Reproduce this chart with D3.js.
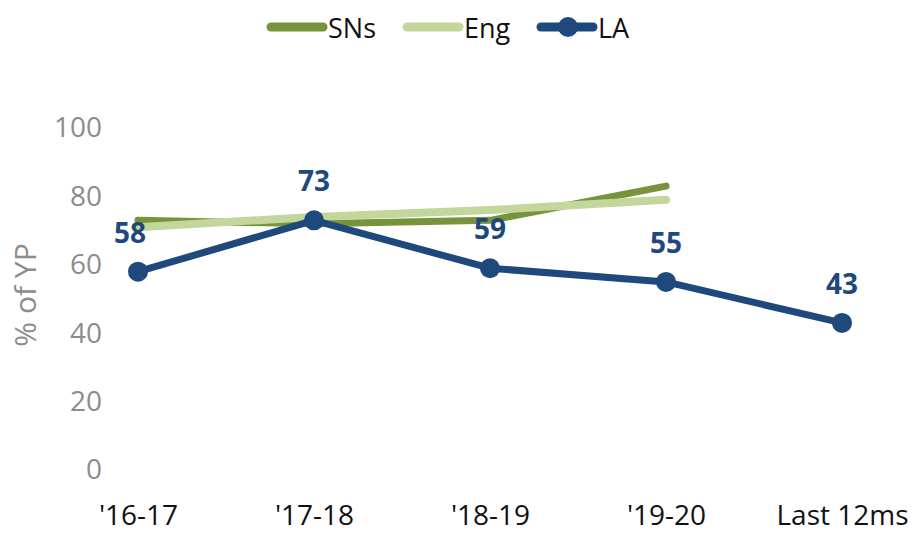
<!DOCTYPE html>
<html>
<head>
<meta charset="utf-8">
<script src="https://cdn.jsdelivr.net/npm/d3@7"></script>
<style>
  body { margin: 0; background: #fff; }
  svg { display: block; font-family: "Open Sans", "Noto Sans", sans-serif; }
</style>
</head>
<body>
<div id="chart"></div>
<script>
const categories = ["'16-17", "'17-18", "'18-19", "'19-20", "Last 12ms"];
const snsValues = [73, 72, 73, 83];
const engValues = [71, 74, 76, 79];
const laValues = [58, 73, 59, 55, 43];
const yTicks = [0, 20, 40, 60, 80, 100];

const width = 913, height = 533;
const colors = { sns: "#77933c", eng: "#c3d69b", la: "#1f497d" };

const svg = d3.select("#chart").append("svg")
    .attr("width", width)
    .attr("height", height);

const x = d3.scalePoint().domain(categories).range([138, 842]);
const y = d3.scaleLinear().domain([0, 100]).range([470, 128]);

// y axis labels only, no axis line
const yAxis = svg.append("g")
    .attr("transform", "translate(102,0)")
    .call(d3.axisLeft(y).tickValues(yTicks).tickSize(0).tickPadding(0));
yAxis.select(".domain").remove();
yAxis.selectAll("text")
    .attr("fill", "#8c8c8c")
    .style("font-size", "28px")
    .style("font-family", "'Open Sans', sans-serif");

svg.append("text")
    .attr("transform", "translate(36,295) rotate(-90)")
    .attr("text-anchor", "middle")
    .attr("fill", "#8c8c8c")
    .style("font-size", "30px")
    .text("% of YP");

// x axis labels
const xAxis = svg.append("g")
    .attr("transform", "translate(0,525)")
    .call(d3.axisBottom(x).tickSize(0).tickPadding(0));
xAxis.select(".domain").remove();
xAxis.selectAll("text")
    .attr("y", 0)
    .attr("dy", 0)
    .attr("fill", "#111")
    .style("font-size", "28px")
    .style("font-family", "'Open Sans', sans-serif");

const line = d3.line()
    .x((d, i) => x(categories[i]))
    .y(d => y(d));

svg.append("path")
    .datum(snsValues)
    .attr("d", line)
    .attr("fill", "none")
    .attr("stroke", colors.sns)
    .attr("stroke-width", 7)
    .attr("stroke-linecap", "round")
    .attr("stroke-linejoin", "round");

svg.append("path")
    .datum(engValues)
    .attr("d", line)
    .attr("fill", "none")
    .attr("stroke", colors.eng)
    .attr("stroke-width", 8)
    .attr("stroke-linecap", "round")
    .attr("stroke-linejoin", "round");

svg.append("path")
    .datum(laValues)
    .attr("d", line)
    .attr("fill", "none")
    .attr("stroke", colors.la)
    .attr("stroke-width", 7)
    .attr("stroke-linejoin", "round");

svg.selectAll("circle.la")
    .data(laValues)
    .join("circle")
    .attr("class", "la")
    .attr("cx", (d, i) => x(categories[i]))
    .attr("cy", d => y(d))
    .attr("r", 10)
    .attr("fill", colors.la);

svg.selectAll("text.lbl")
    .data(laValues)
    .join("text")
    .attr("class", "lbl")
    .attr("x", (d, i) => x(categories[i]) + (i === 0 ? -8 : 0))
    .attr("y", d => y(d) - 29)
    .attr("text-anchor", "middle")
    .attr("fill", colors.la)
    .style("font-size", "28px")
    .style("font-weight", "bold")
    .text(d => d);

// legend
const legendItems = [
  { name: "SNs", color: colors.sns, x: 267, marker: false },
  { name: "Eng", color: colors.eng, x: 403, marker: false },
  { name: "LA", color: colors.la, x: 537, marker: true }
];
const legend = svg.append("g").attr("transform", "translate(0,27)");
legendItems.forEach(item => {
  legend.append("line")
      .attr("x1", item.x + 4).attr("x2", item.x + 56)
      .attr("y1", 0).attr("y2", 0)
      .attr("stroke", item.color)
      .attr("stroke-width", 9)
      .attr("stroke-linecap", "round");
  if (item.marker) {
    legend.append("circle")
        .attr("cx", item.x + 31).attr("cy", 0).attr("r", 10)
        .attr("fill", item.color);
  }
  legend.append("text")
      .attr("x", item.x + 61)
      .attr("y", 11)
      .attr("fill", "#111")
      .style("font-size", "27px")
      .text(item.name);
});
</script>
</body>
</html>
